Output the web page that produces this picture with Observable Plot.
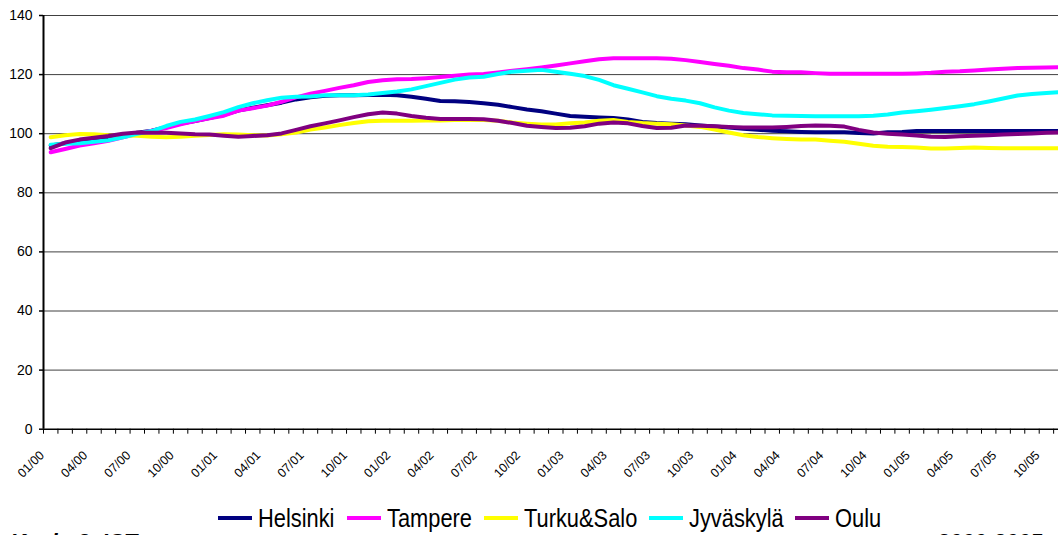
<!DOCTYPE html>
<html><head><meta charset="utf-8">
<script src="https://cdn.jsdelivr.net/npm/d3@7"></script>
<script src="https://cdn.jsdelivr.net/npm/@observablehq/plot@0.6"></script>
<style>
html,body{margin:0;padding:0;background:#fff;overflow:hidden;width:1058px;height:535px;position:relative}
#chart{position:absolute;left:0;top:0;width:1082px}
#chart svg{max-width:none !important;width:1082px !important;height:500px !important}
#legend{position:absolute;top:503px;left:218px;display:flex;align-items:center;white-space:nowrap;
  font-family:"Liberation Sans",Arial,sans-serif;font-size:26px;color:#000;line-height:30px}
#legend .sw{display:inline-block;width:34px;height:4px;margin-right:6px}
#legend .it{display:flex;align-items:center;margin-right:12px}
#legend .tx{display:inline-block;transform:scaleX(0.84);transform-origin:0 50%}
.cap{position:absolute;top:531px;font-family:"Liberation Sans",Arial,sans-serif;font-weight:bold;font-style:italic;font-size:22px;line-height:22px;white-space:nowrap}
</style></head><body>
<div id="chart"></div><div id="legend"></div>
<div class="cap" style="left:10px">Kuvio 3. ICT</div>
<div class="cap" style="right:16px">2000-2005</div>
<script>
const seriesNames = ["Helsinki","Tampere","Turku&Salo","Jyväskylä","Oulu"];
const seriesColors = ["#000080","#FF00FF","#FFFF00","#00FFFF","#800080"];
const tickLabels = ["01/00","04/00","07/00","10/00","01/01","04/01","07/01","10/01","01/02","04/02","07/02","10/02",
  "01/03","04/03","07/03","10/03","01/04","04/04","07/04","10/04","01/05","04/05","07/05","10/05"];
const yTicks = [0,20,40,60,80,100,120,140];

const helsinki = [96.0,96.8,97.5,98.0,98.7,99.5,100.3,101.0,102.2,103.4,104.3,105.3,106.4,107.8,108.8,109.6,110.5,
  111.6,112.3,112.8,113.0,113.0,113.1,113.2,113.0,112.5,111.8,111.1,111.0,110.7,110.3,109.8,109.0,108.2,107.6,106.8,106.0,
  105.7,105.5,105.3,104.8,104.0,103.6,103.4,103.2,102.8,102.4,102.1,101.7,101.3,101.0,100.8,100.6,100.5,100.5,100.5,100.2,100.1,
  100.5,100.6,100.9,100.9,100.9,100.9,100.9,100.9,100.9,100.9,100.9,100.9,100.9,100.9];
const tampere = [93.7,94.8,96.0,96.8,97.6,98.8,99.9,101.0,101.9,103.2,104.3,105.2,106.1,107.8,108.6,109.5,110.8,
  112.3,113.5,114.5,115.5,116.4,117.5,118.1,118.4,118.5,118.8,119.2,119.6,120.0,120.2,120.7,121.3,121.8,122.4,123.1,123.8,
  124.5,125.2,125.5,125.5,125.5,125.5,125.4,124.9,124.3,123.6,123.0,122.2,121.7,121.0,120.8,120.8,120.5,120.3,120.3,120.3,120.3,
  120.3,120.3,120.4,120.6,121.0,121.1,121.4,121.7,122.0,122.2,122.3,122.4,122.5,122.5];
const turku = [98.8,99.5,99.9,99.8,99.5,99.4,99.3,99.0,98.8,99.0,99.3,99.6,99.8,99.7,99.5,99.4,99.8,
  100.4,101.4,102.1,102.9,103.6,104.2,104.4,104.4,104.4,104.5,104.5,104.6,104.6,104.6,104.4,103.8,103.4,103.1,103.1,103.5,
  103.8,104.4,104.6,104.0,103.6,103.4,103.2,102.8,102.3,101.4,100.4,99.5,98.9,98.5,98.2,98.0,98.0,97.6,97.3,96.6,95.9,
  95.6,95.5,95.3,95.0,95.0,95.2,95.3,95.2,95.1,95.1,95.1,95.1,95.1,95.1];
const jyvaskyla = [96.3,96.6,96.8,97.3,97.8,98.8,100.0,100.9,102.6,104.0,104.8,106.0,107.3,109.0,110.3,111.3,112.2,
  112.5,112.6,113.0,113.0,113.0,113.3,113.8,114.3,115.0,116.1,117.2,118.3,119.0,119.3,120.2,121.0,121.3,121.6,121.0,120.3,
  119.5,118.2,116.4,115.2,114.0,112.7,111.8,111.2,110.3,108.9,107.8,107.0,106.6,106.2,106.1,
  106.0,105.9,105.9,105.9,105.9,106.1,106.5,107.2,107.6,108.1,108.7,109.3,110.0,110.9,111.9,112.9,113.4,113.8,114.1,114.4];
const oulu = [95.1,97.0,98.0,98.6,99.2,100.0,100.4,100.3,100.3,100.1,99.8,99.7,99.3,99.0,99.2,99.5,100.1,
  101.3,102.5,103.5,104.5,105.6,106.6,107.2,106.8,106.0,105.4,105.0,105.0,105.0,104.9,104.4,103.6,102.7,102.3,101.9,102.0,
  102.5,103.4,103.8,103.5,102.6,101.9,102.0,102.8,102.7,102.5,102.3,102.1,102.1,102.1,102.3,102.6,102.8,102.7,102.4,101.3,100.4,
  100.0,99.7,99.4,99.0,98.9,99.1,99.3,99.5,99.7,99.9,100.1,100.3,100.4,100.5];

const seriesValues = [helsinki, tampere, turku, jyvaskyla, oulu];
const rows = [];
seriesValues.forEach((vals, s) => vals.forEach((v, i) => rows.push({name: seriesNames[s], i, v})));
const nCat = helsinki.length;
const bounds = d3.range(nCat + 1).map(i => i - 0.5);
const labelPos = tickLabels.map((_, k) => k * 3 - 0.5);

const chart = Plot.plot({
  width: 1082, height: 500,
  marginLeft: 43, marginRight: 0, marginTop: 15, marginBottom: 71.3,
  style: {fontFamily: "'Liberation Sans', Arial, sans-serif", background: "#fff", color: "#000"},
  x: {domain: [-0.5, nCat - 0.5], axis: null},
  y: {domain: [0, 140], axis: null},
  color: {domain: seriesNames, range: seriesColors},
  marks: [
    Plot.ruleY(yTicks.filter(d => d > 0), {stroke: "#404040", strokeWidth: 1}),
    Plot.axisY({ticks: yTicks, tickSize: 4, tickPadding: 7, fontSize: 14, label: null, stroke: "#000", strokeWidth: 1.5, tickFormat: d => d}),
    Plot.axisX({ticks: bounds, tickSize: 5, tickFormat: () => "", label: null, stroke: "#000", strokeWidth: 1}),
    Plot.text(labelPos, {x: d => d, y: 0, text: (d, k) => tickLabels[k], rotate: -45, textAnchor: "end", lineAnchor: "middle", dx: -1.5, dy: 24, fontSize: 12.5}),
    Plot.line(rows, {x: "i", y: "v", z: "name", stroke: "name", strokeWidth: 4, strokeLinejoin: "round", strokeLinecap: "round"}),
    Plot.ruleX([-0.5], {stroke: "#000", strokeWidth: 2}),
    Plot.ruleY([0], {stroke: "#000", strokeWidth: 1.5})
  ]
});
document.getElementById("chart").appendChild(chart);

const lg = document.getElementById("legend");
seriesNames.forEach((n, s) => {
  const it = document.createElement("div"); it.className = "it";
  const sw = document.createElement("span"); sw.className = "sw"; sw.style.background = seriesColors[s];
  const tx = document.createElement("span"); tx.className = "tx"; tx.textContent = n;
  it.appendChild(sw); it.appendChild(tx); lg.appendChild(it);
  const full = tx.offsetWidth, scaled = tx.getBoundingClientRect().width;
  tx.style.marginRight = (scaled - full) + "px";
});
</script>
</body></html>
